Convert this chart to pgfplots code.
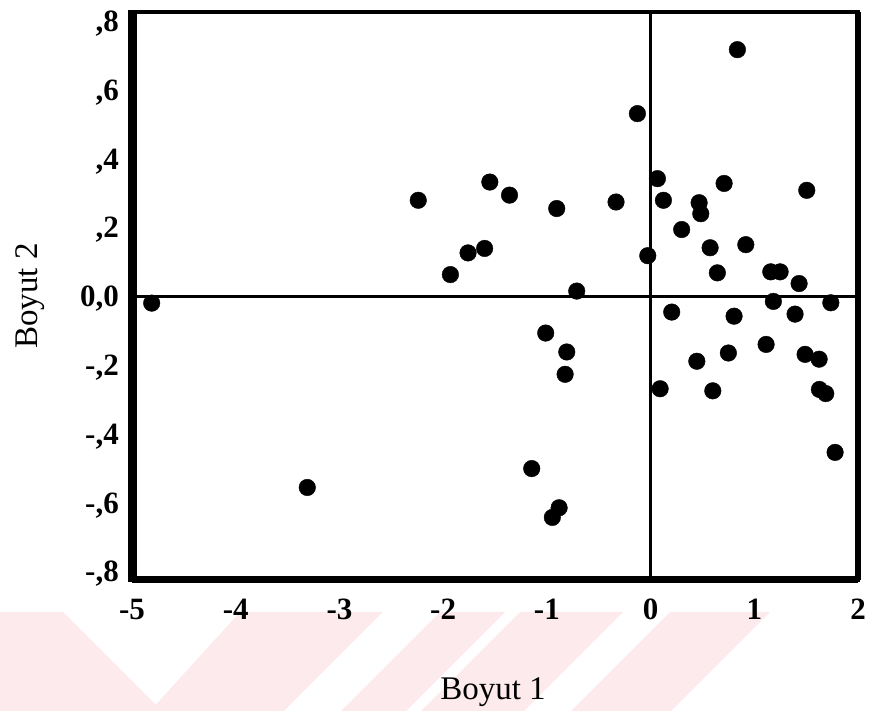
\documentclass[border=0pt]{standalone}
\usepackage{fontspec}
\setmainfont{Liberation Serif}
\usepackage{pgfplots}
\pgfplotsset{compat=1.18}
\definecolor{wm}{RGB}{253,234,237}
\begin{document}
\begin{tikzpicture}[x=1pt,y=1pt]
\useasboundingbox (0,0) rectangle (870,711);
% faint watermark bands
\fill[wm] (0,99) -- (63,99) -- (162,0) -- (0,0) -- cycle;
\fill[wm] (240,99) -- (383,99) -- (284,0) -- (150,0) -- cycle;
\fill[wm] (440,99) -- (505,99) -- (406,0) -- (341,0) -- cycle;
\fill[wm] (520,99) -- (623,99) -- (524,0) -- (421,0) -- cycle;
\fill[wm] (670,99) -- (770,99) -- (671,0) -- (571,0) -- cycle;
\begin{axis}[
  at={(132pt,131pt)}, anchor=south west,
  scale only axis, width=726pt, height=567.5pt,
  xmin=-5, xmax=2, ymin=-0.825, ymax=0.825,
  xtick={-5,-4,-3,-2,-1,0,1,2},
  xticklabels={-5,-4,-3,-2,-1,0,1,2},
  ytick={-0.8,-0.6,-0.4,-0.2,0,0.2,0.4,0.6,0.8},
  yticklabels={{-,8},{-,6},{-,4},{-,2},{0,0},{,2},{,4},{,6},{,8}},
  major tick length=0pt,
  tick label style={font=\fontsize{31}{31}\selectfont\bfseries, inner sep=0pt},
  xticklabel style={anchor=north, yshift=-19pt},
  yticklabel style={anchor=base east, xshift=-13pt, yshift=-10.5pt},
  axis line style={line width=4pt},
  clip=false,
]
\draw[line width=3pt] (axis cs:-5,0) -- (axis cs:2,0);
\draw[line width=3pt] (axis cs:0,-0.825) -- (axis cs:0,0.825);
\draw[line width=9pt] (rel axis cs:0,-0.004) -- (rel axis cs:0,1.004);
\draw[line width=7pt] (rel axis cs:0,0) -- (rel axis cs:1,0);
\draw[line width=6pt] (rel axis cs:1,0) -- (rel axis cs:1,1);
\addplot[only marks, mark=*, mark size=8.3pt, black] coordinates {
(-4.81,-0.020) (-3.31,-0.556) (-2.24,0.279) (-1.93,0.063) (-1.76,0.126)
(-1.60,0.139) (-1.55,0.332) (-1.36,0.294) (-1.146,-0.501) (-1.011,-0.107)
(-0.947,-0.643) (-0.882,-0.615) (-0.905,0.255) (-0.824,-0.227) (-0.808,-0.162)
(-0.712,0.015) (-0.333,0.274) (-0.127,0.531) (-0.027,0.118) (0.066,0.342)
(0.092,-0.269) (0.124,0.279) (0.204,-0.046) (0.300,0.194) (0.446,-0.189)
(0.468,0.272) (0.484,0.240) (0.574,0.141) (0.600,-0.275) (0.644,0.068)
(0.709,0.328) (0.750,-0.165) (0.805,-0.058) (0.837,0.717) (0.918,0.150)
(1.114,-0.140) (1.159,0.071) (1.249,0.071) (1.184,-0.015) (1.393,-0.052)
(1.432,0.037) (1.490,-0.169) (1.506,0.308) (1.625,-0.183) (1.628,-0.271)
(1.689,-0.283) (1.738,-0.019) (1.779,-0.454)
};
\end{axis}
\node[anchor=north, inner sep=0pt, font=\fontsize{33}{33}\selectfont] at (493,33) {Boyut 1};
\node[rotate=90, anchor=north, inner sep=0pt, font=\fontsize{33}{33}\selectfont] at (15,415) {Boyut 2};
\end{tikzpicture}
\end{document}
